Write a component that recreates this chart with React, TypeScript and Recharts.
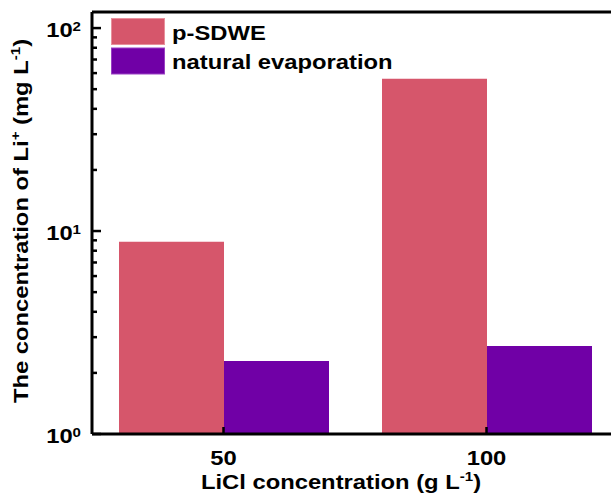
import React from 'react';
import { BarChart, Bar, XAxis, YAxis, Legend, ReferenceLine } from 'recharts';

const categories = ['50', '100'];
const pSDWE = [8.86, 56.3];
const naturalEvaporation = [2.29, 2.71];
const seriesNames = ['p-SDWE', 'natural evaporation'];
const seriesColors = ['#D6566B', '#7000A6'];
const seriesEdge = ['#E8909C', '#9A40C4'];
const yDomain = [1, 120];
const yTicks = [1, 2, 3, 4, 5, 6, 7, 8, 9, 10, 20, 30, 40, 50, 60, 70, 80, 90, 100];
const majorTicks = [1, 10, 100];
const majorExp: Record<number, string> = { 1: '0', 10: '1', 100: '2' };

const data = categories.map((c, i) => ({ cat: c, p: pSDWE[i], n: naturalEvaporation[i] }));

const FONT = 'Arial, "Liberation Sans", sans-serif';
const SX = 1.16;
const FS = 20.5;

const YTick = (props: any) => {
  const { x, y, payload } = props;
  const v = payload.value;
  const major = majorTicks.includes(v);
  return (
    <g>
      <line x1={x} y1={y} x2={x + (major ? 9 : 5)} y2={y} stroke="#000" strokeWidth={2.5} />
      {major && (
        <text
          transform={`translate(${x - 11},${y + 9}) scale(${SX},1)`}
          textAnchor="end"
          fontFamily={FONT}
          fontWeight="bold"
          fontSize={FS}
          fill="#000"
        >
          <tspan>10</tspan>
          <tspan dy={-6} fontSize={13}>{majorExp[v]}</tspan>
        </text>
      )}
    </g>
  );
};

const XTick = (props: any) => {
  const { x, y, payload } = props;
  return (
    <g>
      <line x1={x} y1={y} x2={x} y2={y - 7} stroke="#000" strokeWidth={2.5} />
      <text
        transform={`translate(${x},${y + 31}) scale(${SX},1)`}
        textAnchor="middle"
        fontFamily={FONT}
        fontWeight="bold"
        fontSize={FS}
        fill="#000"
      >
        {payload.value}
      </text>
    </g>
  );
};

const YTitle = (props: any) => {
  const vb = props.viewBox || { x: 0, y: 12, width: 92, height: 422 };
  const cy = vb.y + vb.height / 2 - 2;
  return (
    <text
      transform={`translate(28,${cy}) rotate(-90) scale(${SX},1)`}
      textAnchor="middle"
      fontFamily={FONT}
      fontWeight="bold"
      fontSize={FS}
      fill="#000"
    >
      <tspan>{'The concentration of Li'}</tspan>
      <tspan dy={-8} fontSize={13}>{'+'}</tspan>
      <tspan dy={8}>{' (mg L'}</tspan>
      <tspan dy={-8} fontSize={13}>{'-1'}</tspan>
      <tspan dy={8}>{')'}</tspan>
    </text>
  );
};

const XTitle = () => {
  return (
    <text
      transform={`translate(341,489) scale(${SX},1)`}
      textAnchor="middle"
      fontFamily={FONT}
      fontWeight="bold"
      fontSize={FS}
      fill="#000"
    >
      <tspan>{'LiCl concentration (g L'}</tspan>
      <tspan dy={-8} fontSize={13}>{'-1'}</tspan>
      <tspan dy={8}>{')'}</tspan>
    </text>
  );
};

const renderLegend = () => {
  return (
    <svg width={611} height={90} style={{ display: 'block' }}>
      {seriesNames.map((name, i) => (
        <g key={name}>
          <rect x={111.5} y={18.5 + i * 29.5} width={53} height={26} fill={seriesColors[i]} stroke={seriesEdge[i]} strokeWidth={1} />
          <text
            transform={`translate(172,${40 + i * 28.5}) scale(${SX},1)`}
            fontFamily={FONT}
            fontWeight="bold"
            fontSize={FS}
            fill="#000"
          >
            {name}
          </text>
        </g>
      ))}
    </svg>
  );
};

export default function App() {
  return (
    <div style={{ position: 'absolute', left: 0, top: 0, width: 611, height: 495, overflow: 'hidden', background: '#fff' }}>
      <BarChart
        width={611}
        height={495}
        data={data}
        margin={{ top: 12, right: -7, left: 0, bottom: 0 }}
        barGap={0}
      >
        <XAxis
          dataKey="cat"
          type="category"
          height={61}
          axisLine={{ stroke: '#000', strokeWidth: 3 }}
          tickLine={false}
          tickSize={0}
          tickMargin={0}
          interval={0}
          tick={<XTick />}
          label={{ content: <XTitle /> } as any}
        />
        <YAxis
          scale="log"
          type="number"
          domain={yDomain}
          allowDataOverflow
          ticks={yTicks}
          interval={0}
          width={92}
          axisLine={{ stroke: '#000', strokeWidth: 3 }}
          tickLine={false}
          tickSize={0}
          tickMargin={0}
          tick={<YTick />}
          label={{ content: <YTitle /> } as any}
        />
        <ReferenceLine y={yDomain[1]} stroke="#000" strokeWidth={3} ifOverflow="extendDomain" />
        <Legend
          layout="horizontal"
          verticalAlign="middle"
          align="center"
          content={renderLegend}
          wrapperStyle={{ position: 'absolute', left: 0, top: 0, width: 611, height: 90, pointerEvents: 'none' }}
        />
        <Bar dataKey="p" name={seriesNames[0]} fill={seriesColors[0]} barSize={105} isAnimationActive={false} />
        <Bar dataKey="n" name={seriesNames[1]} fill={seriesColors[1]} barSize={105} isAnimationActive={false} />
      </BarChart>
    </div>
  );
}
